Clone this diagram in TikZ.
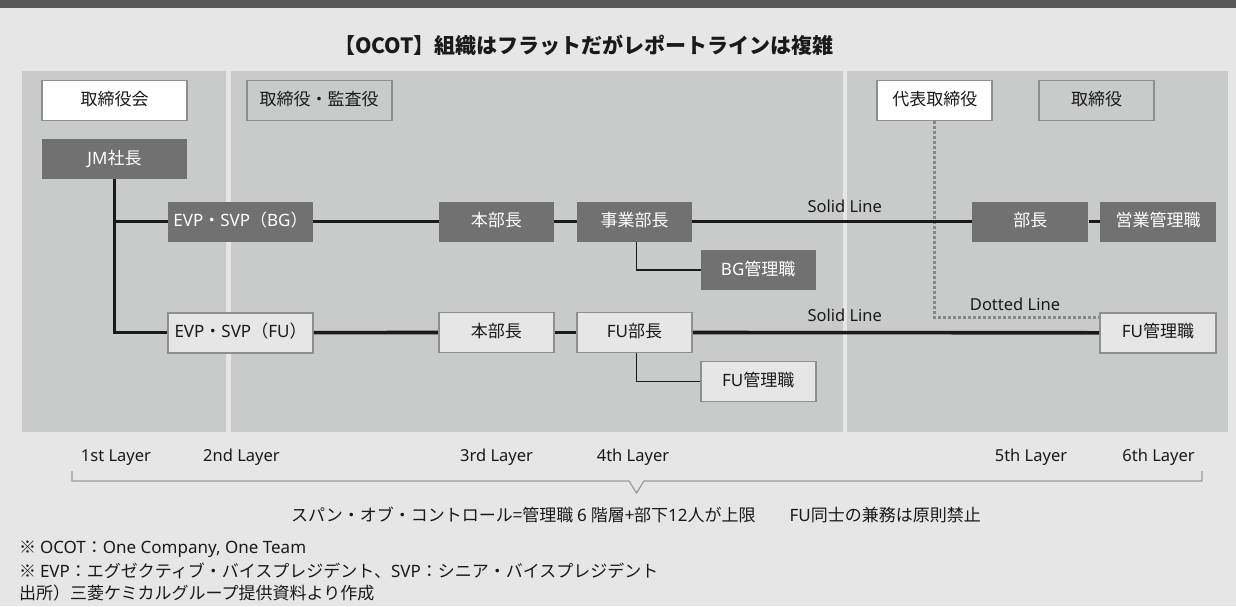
\documentclass[tikz,border=0pt]{standalone}
\usepackage{fontspec}
\setmainfont{Noto Sans CJK JP}
\newfontfamily\lat{Noto Sans}
\newcommand{\La}[1]{{\lat #1}}
\definecolor{bgc}{HTML}{E6E6E6}
\definecolor{band}{HTML}{595757}
\definecolor{panel}{HTML}{C9CACA}
\definecolor{dkbox}{HTML}{727171}
\definecolor{bord}{HTML}{8F8F8F}
\definecolor{dotc}{HTML}{888888}
\definecolor{ink}{HTML}{1A1A1A}
\definecolor{brk}{HTML}{9C9C9C}
\tikzset{
  boxbase/.style={inner sep=0pt, minimum height=40pt, font=\fontsize{17}{20}\selectfont, text height=13pt, text depth=3pt},
  darkbox/.style={boxbase, fill=dkbox, text=white},
  lightbox/.style={boxbase, fill=bgc, draw=bord, line width=1.8pt, text=ink},
  whitebox/.style={boxbase, fill=white, draw=bord, line width=1.8pt, text=ink},
  panelbox/.style={boxbase, fill=panel, draw=bord, line width=1.8pt, text=ink},
  mainline/.style={draw=ink, line width=3.6pt},
  subline/.style={draw=ink, line width=1.3pt},
  dotline/.style={draw=dotc, line width=3pt, dash pattern=on 3pt off 2pt},
  lbl/.style={font=\lat\fontsize{16.5}{19}\selectfont, text=ink, inner sep=0pt},
  note/.style={font=\fontsize{17}{20}\selectfont, text=ink, inner sep=0pt, anchor=west},
}
\begin{document}
\begin{tikzpicture}[x=1pt, y=-1pt]
\useasboundingbox (0,0) rectangle (1236,606);
\fill[bgc] (0,0) rectangle (1236,606);
\fill[band] (0,0) rectangle (1236,8);
% panels
\fill[panel] (21.7,71) rectangle (226,432);
\fill[panel] (230.7,71) rectangle (843,432);
\fill[panel] (847.3,71) rectangle (1228.3,432);
% title
\node[font=\bfseries\fontsize{21}{24}\selectfont, text=ink, inner sep=0pt] (title) at (584,45) {【OCOT】組織はフラットだがレポートラインは複雑};
% top row
\node[whitebox, minimum width=145pt] (torikai) at (114.5,100.5) {取締役会};
\node[panelbox, minimum width=145pt] (kansa) at (319.2,100.5) {取締役・監査役};
\node[whitebox, minimum width=115pt] (daihyo) at (934.8,100.5) {代表取締役};
\node[panelbox, minimum width=115pt] (tori) at (1096.5,100.5) {取締役};
% BG row
\node[darkbox, minimum width=145pt] (jm) at (114.5,159) {\La{JM}社長};
\node[darkbox, minimum width=145pt] (evpbg) at (240.5,221.5) {\La{EVP}・\La{SVP}（\La{BG}）};
\node[darkbox, minimum width=115pt] (honbg) at (496.3,221.5) {本部長};
\node[darkbox, minimum width=115pt] (jigyo) at (634.5,221.5) {事業部長};
\node[darkbox, minimum width=115pt] (bgk) at (758.2,270) {\La{BG}管理職};
\node[darkbox, minimum width=116pt] (bucho) at (1030.3,221.5) {部長};
\node[darkbox, minimum width=116pt] (eigyo) at (1158,221.5) {営業管理職};
% FU row
\node[lightbox, minimum width=145pt] (evpfu) at (240.5,332.6) {\La{EVP}・\La{SVP}（\La{FU}）};
\node[lightbox, minimum width=115pt] (honfu) at (496.3,332.5) {本部長};
\node[lightbox, minimum width=115pt] (fubu) at (634.5,332.5) {\La{FU}部長};
\node[lightbox, minimum width=115pt] (fuk) at (758.2,381.4) {\La{FU}管理職};
\node[lightbox, minimum width=116pt] (fukr) at (1158,332.8) {\La{FU}管理職};
% connectors
\draw[dotline] (daihyo.south) |- ([yshift=-6pt]fukr.north west);
\draw[mainline] (jm.south) |- (evpfu.west);
\draw[mainline] (jm.south |- evpbg.west) -- (evpbg.west);
\draw[mainline] (evpbg.east) -- (honbg.west);
\draw[mainline] (honbg.east) -- (jigyo.west);
\draw[mainline] (jigyo.east) -- (bucho.west);
\draw[mainline] (bucho.east) -- (eigyo.west);
\draw[mainline] (evpfu.east) -- (honfu.west);
\draw[mainline] (honfu.east) -- (fubu.west);
\draw[mainline] (fubu.east) -- (fukr.west);
\draw[subline] ([xshift=1.8pt]jigyo.south) |- (bgk.west);
\draw[subline] ([xshift=1.8pt]fubu.south) |- (fuk.west);
% line labels
\node[lbl] (sl1) at (844.7,206.7) {Solid Line};
\node[lbl] (sl2) at (844.7,315) {Solid Line};
\node[lbl] (dl) at (1015,304) {Dotted Line};
% layers
\node[lbl] (l1) at (116,457.5) {1st Layer};
\node[lbl] (l2) at (241.5,457.5) {2nd Layer};
\node[lbl] (l3) at (496.6,457.5) {3rd Layer};
\node[lbl] (l4) at (633,457.5) {4th Layer};
\node[lbl] (l5) at (1031,457.5) {5th Layer};
\node[lbl] (l6) at (1158.6,457.5) {6th Layer};
\coordinate (bl) at (72,471);
\coordinate (br) at (1202,471);
\draw[brk, line width=1.2pt] (bl) -- (72,481) -- (629,481) -- (636.5,493) -- (644,481) -- (1202,481) -- (br);
% bottom text
\node[font=\fontsize{17}{20}\selectfont, text=ink, inner sep=0pt] (span) at (636,515) {スパン・オブ・コントロール=管理職 \La{6} 階層+部下\La{12}人が上限\hspace{2em}\La{FU}同士の兼務は原則禁止};
\node[note] (n1) at (19,549) {※ \La{OCOT}：\La{One Company, One Team}};
\node[note] (n2) at (19,571) {※ \La{EVP}：エグゼクティブ・バイスプレジデント、\La{SVP}：シニア・バイスプレジデント};
\node[note] (n3) at (19,593) {出所）三菱ケミカルグループ提供資料より作成};
\end{tikzpicture}
\end{document}
